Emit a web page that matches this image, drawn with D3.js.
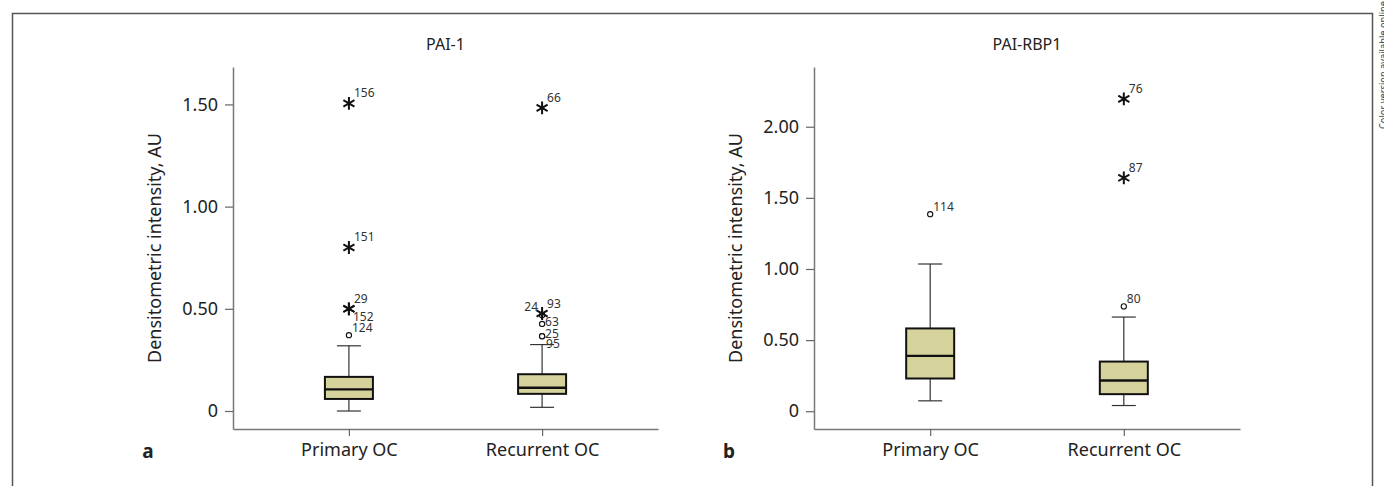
<!DOCTYPE html>
<html>
<head>
<meta charset="utf-8">
<script src="https://cdn.jsdelivr.net/npm/d3@7"></script>
<style>
  body { margin: 0; background: #fff; }
  text { font-family: "Noto Sans", "Open Sans", sans-serif; fill: #222; }
</style>
</head>
<body>
<script>
// categories and panel texts
var categories = ["Primary OC", "Recurrent OC"];
var panelTitles = ["PAI-1", "PAI-RBP1"];
var panelLetters = ["a", "b"];
var yTicksA = [0, 0.5, 1, 1.5];
var yTicksB = [0, 0.5, 1, 1.5, 2];

// box stats
var pai1Stats = [
  {min: 0.0,   q1: 0.059, median: 0.106, q3: 0.167, max: 0.319},
  {min: 0.018, q1: 0.084, median: 0.114, q3: 0.180, max: 0.325}
];
var rbp1Stats = [
  {min: 0.073, q1: 0.230, median: 0.389, q3: 0.582, max: 1.035},
  {min: 0.040, q1: 0.120, median: 0.216, q3: 0.349, max: 0.662}
];

// outliers: kind "o" = circle, "*" = extreme
var pai1Outliers = [
  [{v: 1.505, id: "156", kind: "*"}, {v: 0.800, id: "151", kind: "*"},
   {v: 0.500, id: "29", kind: "*"}, {v: 0.500, id: "152", kind: "*"},
   {v: 0.371, id: "124", kind: "o"}],
  [{v: 1.483, id: "66", kind: "*"}, {v: 0.469, id: "24", kind: "o"},
   {v: 0.477, id: "93", kind: "*"}, {v: 0.426, id: "63", kind: "o"},
   {v: 0.366, id: "25", kind: "o"}, {v: 0.366, id: "95", kind: "o"}]
];
var rbp1Outliers = [
  [{v: 1.385, id: "114", kind: "o"}],
  [{v: 2.196, id: "76", kind: "*"}, {v: 1.641, id: "87", kind: "*"},
   {v: 0.737, id: "80", kind: "o"}]
];

// where the id label goes next to its mark (default upper right)
var labelSide = {"152": "below", "95": "below", "24": "left", "63": "right", "25": "right"};

var width = 1384, height = 486;
var svg = d3.select("body").append("svg")
            .attr("width", width)
            .attr("height", height);

// outer frame
svg.append("path")
   .attr("d", "M12.5,490 L12.5,13.5 L1372.5,13.5 L1372.5,490")
   .attr("fill", "none")
   .attr("stroke", "#555")
   .attr("stroke-width", 1.5);

svg.append("text")
   .attr("transform", "translate(1386.5,0) rotate(-90)")
   .attr("x", -1)
   .attr("text-anchor", "end")
   .attr("textLength", 128)
   .attr("lengthAdjust", "spacingAndGlyphs")
   .style("font-size", "11.5px")
   .style("fill", "#444")
   .text("Color version available online");

var boxFill = "#d5d39b";

function drawPanel(opt) {
  var g = svg.append("g");

  var x = d3.scalePoint()
            .domain(categories)
            .range([opt.left, opt.right])
            .padding(0.6);
  var y = d3.scaleLinear()
            .domain(opt.yDomain)
            .range([429, 67]);

  var yAxis = d3.axisLeft(y)
                .tickValues(opt.ticks)
                .tickSize(8)
                .tickSizeOuter(0)
                .tickPadding(7)
                .tickFormat(function(d){ return d == 0 ? "0" : d3.format(".2f")(d); });
  var xAxis = d3.axisBottom(x)
                .tickSize(7)
                .tickSizeOuter(0)
                .tickPadding(7);

  var ya = g.append("g")
            .attr("transform", "translate(" + opt.left + ",0)")
            .call(yAxis);
  var xa = g.append("g")
            .attr("transform", "translate(0,429)")
            .call(xAxis);
  [ya, xa].forEach(function(a){
    a.select(".domain").attr("stroke", "#777").attr("stroke-width", 1.5);
    a.selectAll(".tick line").attr("stroke", "#666").attr("stroke-width", 1.2);
    a.selectAll(".tick text").style("font-size", "18px").style("fill", "#222")
     .style("font-family", "'Noto Sans', sans-serif");
  });

  // titles
  g.append("text")
   .attr("x", (opt.left + opt.right) / 2)
   .attr("y", 50)
   .attr("text-anchor", "middle")
   .style("font-size", "16px")
   .text(opt.title);

  g.append("text")
   .attr("transform", "translate(" + (opt.left - 72) + ",248) rotate(-90)")
   .attr("text-anchor", "middle")
   .style("font-size", "18px")
   .text("Densitometric intensity, AU");

  g.append("text")
   .attr("x", opt.left - 85)
   .attr("y", 458)
   .attr("text-anchor", "middle")
   .style("font-size", "19px")
   .style("font-weight", "bold")
   .text(opt.letter);

  var boxW = 48, capW = 24;
  var boxes = g.selectAll(".box")
               .data(opt.stats)
               .enter().append("g")
               .attr("class", "box")
               .attr("transform", function(d, i){ return "translate(" + x(categories[i]) + ",0)"; });

  boxes.append("line")
       .attr("x1", 0).attr("x2", 0)
       .attr("y1", function(d){ return y(d.max); })
       .attr("y2", function(d){ return y(d.min); })
       .attr("stroke", "#333").attr("stroke-width", 1.2);
  boxes.append("line")
       .attr("x1", -capW / 2).attr("x2", capW / 2)
       .attr("y1", function(d){ return y(d.max); })
       .attr("y2", function(d){ return y(d.max); })
       .attr("stroke", "#333").attr("stroke-width", 1.2);
  boxes.append("line")
       .attr("x1", -capW / 2).attr("x2", capW / 2)
       .attr("y1", function(d){ return y(d.min); })
       .attr("y2", function(d){ return y(d.min); })
       .attr("stroke", "#333").attr("stroke-width", 1.2);
  boxes.append("rect")
       .attr("x", -boxW / 2)
       .attr("width", boxW)
       .attr("y", function(d){ return y(d.q3); })
       .attr("height", function(d){ return y(d.q1) - y(d.q3); })
       .attr("fill", boxFill)
       .attr("stroke", "#111")
       .attr("stroke-width", 2);
  boxes.append("line")
       .attr("x1", -boxW / 2).attr("x2", boxW / 2)
       .attr("y1", function(d){ return y(d.median); })
       .attr("y2", function(d){ return y(d.median); })
       .attr("stroke", "#111").attr("stroke-width", 2.4);

  // outliers
  var star = d3.symbol().type(d3.symbolAsterisk).size(115);
  opt.outliers.forEach(function(list, i){
    var cx = x(categories[i]);
    list.forEach(function(o){
      var cy = y(o.v);
      if (o.kind == "*") {
        g.append("path")
         .attr("d", star())
         .attr("transform", "translate(" + cx + "," + cy + ")")
         .attr("fill", "none")
         .attr("stroke", "#111")
         .attr("stroke-width", 2);
      } else {
        g.append("circle")
         .attr("cx", cx).attr("cy", cy).attr("r", 2.6)
         .attr("fill", "#fff")
         .attr("stroke", "#111")
         .attr("stroke-width", 1.1);
      }
      var side = labelSide[o.id] || "ur";
      var dx = o.kind == "*" ? 5 : 3, dy = o.kind == "*" ? -6 : -3, anchor = "start";
      if (side == "below") { dx = 4; dy = 12; }
      if (side == "right") { dx = 3; dy = 2; }
      if (side == "left") { dx = -4; dy = -4; anchor = "end"; }
      g.append("text")
       .attr("x", cx + dx)
       .attr("y", cy + dy)
       .attr("text-anchor", anchor)
       .style("font-size", "12px")
       .style("fill", "#333")
       .text(o.id);
    });
  });
}

drawPanel({left: 233, right: 658, yDomain: [-0.088, 1.683], ticks: yTicksA,
           title: panelTitles[0], letter: panelLetters[0],
           stats: pai1Stats, outliers: pai1Outliers});
drawPanel({left: 814, right: 1240, yDomain: [-0.125, 2.42], ticks: yTicksB,
           title: panelTitles[1], letter: panelLetters[1],
           stats: rbp1Stats, outliers: rbp1Outliers});
</script>
</body>
</html>
